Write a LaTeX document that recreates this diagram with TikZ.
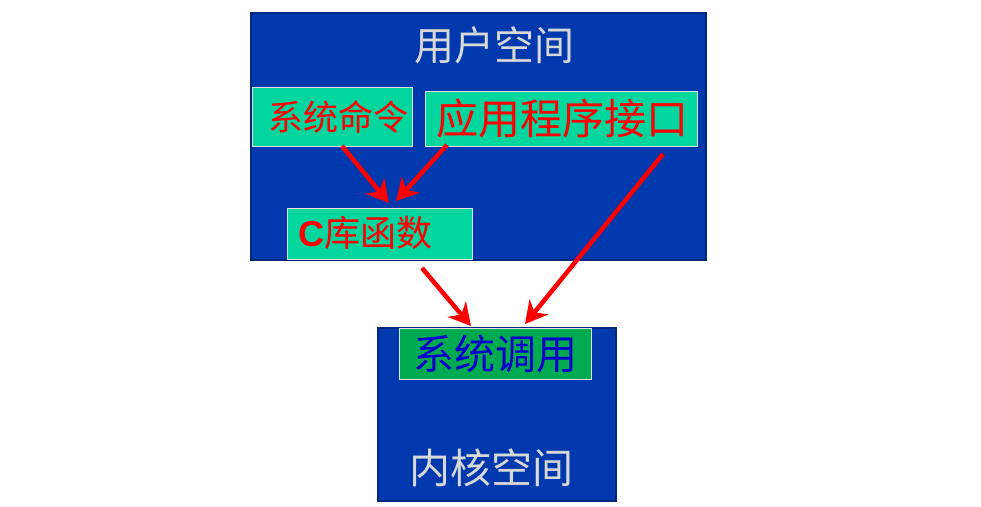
\documentclass[tikz,border=0pt]{standalone}
\usepackage{fontspec}
\newfontfamily\cjk{Noto Sans CJK SC}
\setmainfont{Liberation Sans}
\usetikzlibrary{arrows.meta}
\definecolor{spaceblue}{RGB}{0,57,173}
\definecolor{spaceedge}{RGB}{0,40,128}
\definecolor{lightgreen}{RGB}{0,214,158}
\definecolor{darkgreen}{RGB}{0,170,80}
\definecolor{titlegray}{RGB}{216,216,216}
\definecolor{callblue}{RGB}{0,0,204}
\tikzset{
  spacebox/.style={draw=spaceedge, line width=2.5pt, fill=spaceblue},
  funcbox/.style={draw=titlegray!80, line width=0.6pt, fill=lightgreen, inner sep=0pt},
  redtext/.style={text=red},
  callarrow/.style={draw=red, line width=4.5pt, -{Stealth[length=22pt,width=24pt,inset=7pt]}},
}
\begin{document}
\begin{tikzpicture}[x=1pt,y=-1pt]
\useasboundingbox (0,0) rectangle (981,506);
% user space
\path[spacebox] (251,13) rectangle (706,260);
\node[text=titlegray, font=\cjk\fontsize{40}{42}\selectfont] (ut) at (494,45) {用户空间};
% boxes
\path[funcbox] (252,87) rectangle (412,146);
\node[redtext, font=\cjk\fontsize{35}{38}\selectfont] (sc) at (338,117) {系统命令};
\path[funcbox] (425,91) rectangle (697,146);
\node[redtext, font=\cjk\fontsize{42}{46}\selectfont] (api) at (562,119) {应用程序接口};
\path[funcbox] (287,208) rectangle (472,259);
\node[redtext, font=\fontsize{36}{40}\selectfont, anchor=west] (clib) at (295,233) {\textbf{C}{\cjk 库函数}};
% kernel space
\path[spacebox] (378,328) rectangle (616,501);
\path[draw=titlegray!80, line width=0.6pt, fill=darkgreen] (399,328) rectangle (591,379);
\node[text=callblue, font=\cjk\fontsize{41}{44}\selectfont] (sys) at (495,354) {系统调用};
\node[text=titlegray, font=\cjk\fontsize{41}{44}\selectfont] (kt) at (491,468) {内核空间};
% arrow endpoints
\coordinate (a1s) at (342,146);
\coordinate (a1e) at (389,203);
\coordinate (a2s) at (447,145);
\coordinate (a2e) at (396,201);
\coordinate (a3s) at (663,154);
\coordinate (a3e) at (525,324);
\coordinate (a4s) at (422,268);
\coordinate (a4e) at (471,326);
\draw[callarrow] (a1s) -- (a1e);
\draw[callarrow] (a2s) -- (a2e);
\draw[callarrow] (a3s) -- (a3e);
\draw[callarrow] (a4s) -- (a4e);
\end{tikzpicture}
\end{document}
